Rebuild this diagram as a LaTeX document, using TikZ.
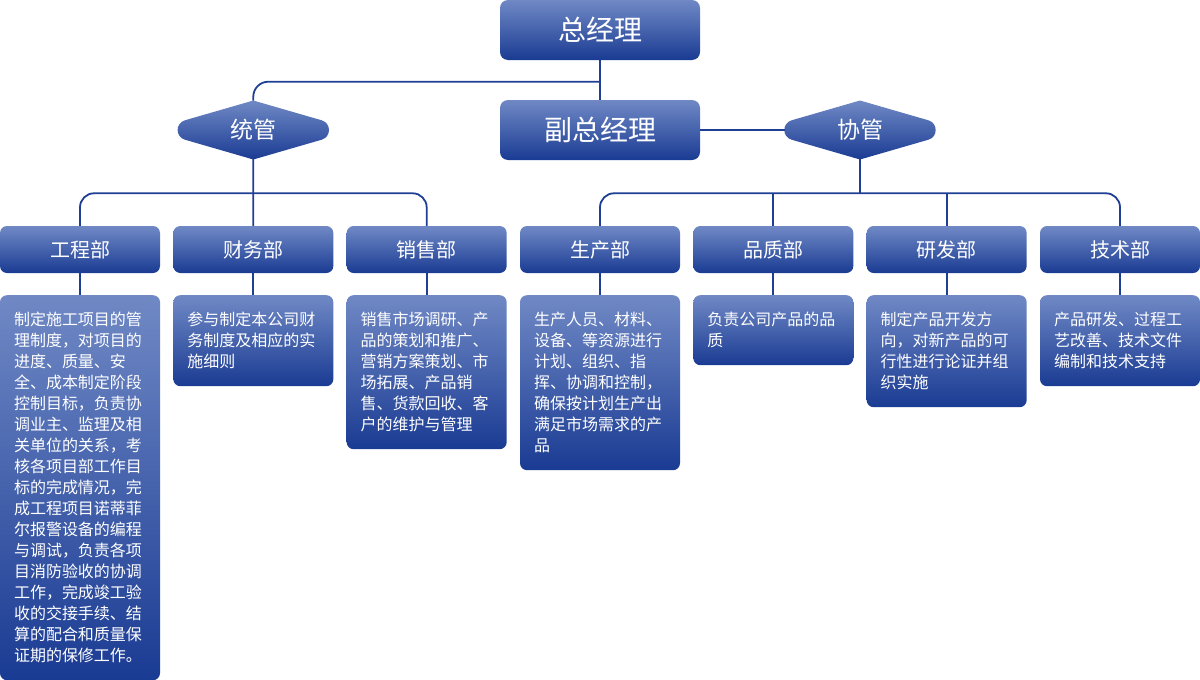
\documentclass[tikz,border=0pt]{standalone}
\usepackage{fontspec}
\setmainfont{Noto Sans CJK SC}
\definecolor{gtop}{HTML}{7089C5}
\definecolor{gbot}{HTML}{1A3B93}
\definecolor{lineblue}{HTML}{1E3F94}
\newcommand{\ls}{\rule[-4.3pt]{0pt}{21pt}}
\begin{document}
\begin{tikzpicture}[x=1pt,y=-1pt,
  box/.style={rounded corners=8pt, top color=gtop, bottom color=gbot, draw=none, text=white, inner sep=0pt},
  topbox/.style={box, minimum width=200pt, minimum height=60pt, font=\fontsize{28}{32}\selectfont},
  dept/.style={box, rounded corners=7pt, minimum width=160pt, minimum height=47pt, font=\fontsize{20}{24}\selectfont},
  desc/.style={box, rounded corners=7pt, anchor=north, text width=132pt, inner xsep=14pt, inner ysep=14pt, align=left, font=\fontsize{16}{21}\selectfont},
  dmd/.style={top color=gtop, bottom color=gbot, draw=none},
  dlabel/.style={text=white, inner sep=0pt, font=\fontsize{23}{28}\selectfont},
  conn/.style={draw=lineblue, line width=1.8pt}
]
\useasboundingbox (0,0) rectangle (1200,680);

% top boxes
\node[topbox] (gm) at (600,30) {总经理};
\node[topbox] (vgm) at (600,130) {副总经理};

% diamonds
\path[dmd, shift={(253.3,130)}] (0,-29.5) -- (-68.4,-9.7) .. controls (-78.1,-6.9) and (-78.1,6.9) .. (-68.4,9.7) -- (0,29.5) -- (68.4,9.7) .. controls (78.1,6.9) and (78.1,-6.9) .. (68.4,-9.7) -- cycle;
\node[dlabel] (tg) at (253.3,130) {统管};
\path[dmd, shift={(860,130)}] (0,-29.5) -- (-68.4,-9.7) .. controls (-78.1,-6.9) and (-78.1,6.9) .. (-68.4,9.7) -- (0,29.5) -- (68.4,9.7) .. controls (78.1,6.9) and (78.1,-6.9) .. (68.4,-9.7) -- cycle;
\node[dlabel] (xg) at (860,130) {协管};

% departments
\node[dept] (p1) at (80,249.5) {工程部};
\node[dept] (p2) at (253.33,249.5) {财务部};
\node[dept] (p3) at (426.67,249.5) {销售部};
\node[dept] (p4) at (600,249.5) {生产部};
\node[dept] (p5) at (773.33,249.5) {品质部};
\node[dept] (p6) at (946.67,249.5) {研发部};
\node[dept] (p7) at (1120,249.5) {技术部};

% descriptions
\node[desc] (d1) at (80,295) {\ls 制定施工项目的管\\\ls 理制度，对项目的\\\ls 进度、质量、安\\\ls 全、成本制定阶段\\\ls 控制目标，负责协\\\ls 调业主、监理及相\\\ls 关单位的关系，考\\\ls 核各项目部工作目\\\ls 标的完成情况，完\\\ls 成工程项目诺蒂菲\\\ls 尔报警设备的编程\\\ls 与调试，负责各项\\\ls 目消防验收的协调\\\ls 工作，完成竣工验\\\ls 收的交接手续、结\\\ls 算的配合和质量保\\\ls 证期的保修工作。};
\node[desc] (d2) at (253.33,295) {\ls 参与制定本公司财\\\ls 务制度及相应的实\\\ls 施细则};
\node[desc] (d3) at (426.67,295) {\ls 销售市场调研、产\\\ls 品的策划和推广、\\\ls 营销方案策划、市\\\ls 场拓展、产品销\\\ls 售、货款回收、客\\\ls 户的维护与管理};
\node[desc] (d4) at (600,295) {\ls 生产人员、材料、\\\ls 设备、等资源进行\\\ls 计划、组织、指\\\ls 挥、协调和控制，\\\ls 确保按计划生产出\\\ls 满足市场需求的产\\\ls 品};
\node[desc] (d5) at (773.33,295) {\ls 负责公司产品的品\\\ls 质};
\node[desc] (d6) at (946.67,295) {\ls 制定产品开发方\\\ls 向，对新产品的可\\\ls 行性进行论证并组\\\ls 织实施};
\node[desc] (d7) at (1120,295) {\ls 产品研发、过程工\\\ls 艺改善、技术文件\\\ls 编制和技术支持};

% coordinates
\coordinate (j1) at (600,81.7);
\coordinate (tgtop) at (253.3,100.5);
\coordinate (tgbot) at (253.3,159);
\coordinate (xgleft) at (785,130);
\coordinate (xgbot) at (860,159);
\coordinate (bL) at (253.33,193.3);
\coordinate (bR) at (860,193.3);

% connectors
\draw[conn] (gm.south) -- (vgm.north);
\draw[conn, rounded corners=15pt] (j1) -| (tgtop);
\draw[conn] (vgm.east) -- (vgm.east -| xgleft);
\draw[conn] (tgbot) -- (p2.north);
\draw[conn, rounded corners=14pt] (p1.north) |- (bL) -| (p3.north);
\draw[conn] (xgbot) -- (bR);
\draw[conn, rounded corners=14pt] (p4.north) |- (bR) -| (p7.north);
\draw[conn] (p5.north) -- (p5.north |- bR);
\draw[conn] (p6.north) -- (p6.north |- bR);
\foreach \i in {1,...,7} {\draw[conn] (p\i.south) -- (d\i.north);}
\end{tikzpicture}
\end{document}
